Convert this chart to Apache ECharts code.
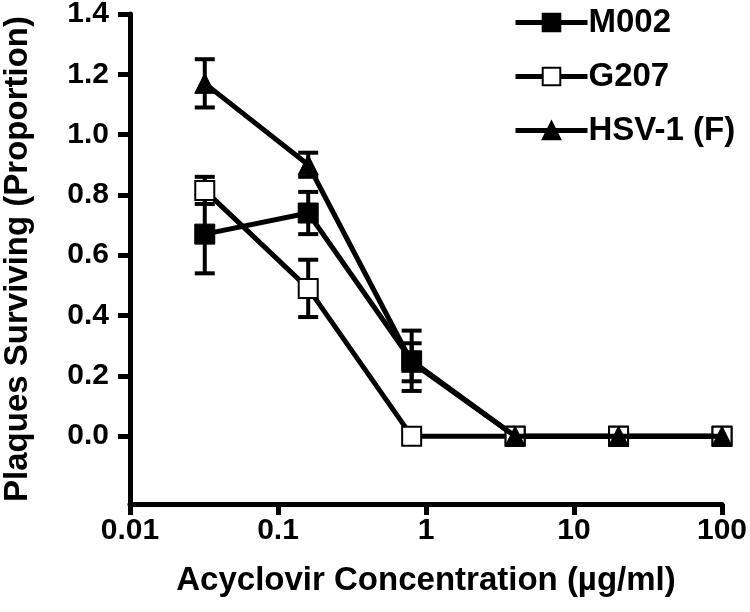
<!DOCTYPE html>
<html>
<head>
<meta charset="utf-8">
<script src="https://cdn.jsdelivr.net/npm/echarts@6/dist/echarts.min.js"></script>
<style>html,body{margin:0;padding:0;background:#fff;}#c{width:750px;height:612px;}</style>
</head>
<body>
<div id="c"></div>
<script>
const concentrations = [0.032, 0.16, 0.8, 4, 20, 100];
const seriesNames = ['M002', 'G207', 'HSV-1 (F)'];
const m002 = [0.67, 0.74, 0.25, 0, 0, 0];
const m002Err = [0.13, 0.07, 0.10, 0, 0, 0];
const g207 = [0.815, 0.49, 0, 0, 0, 0];
const g207Err = [0.045, 0.095, 0, 0, 0, 0];
const hsv1 = [1.17, 0.90, 0.245, 0, 0, 0];
const hsv1Err = [0.08, 0.04, 0.063, 0, 0, 0];
const yTicks = [0, 0.2, 0.4, 0.6, 0.8, 1.0, 1.2, 1.4];
const xTicks = [0.01, 0.1, 1, 10, 100];

const FONT = '"Liberation Sans", Arial, sans-serif';
const chart = echarts.init(document.getElementById('c'), null, {renderer: 'canvas'});

function pts(vals) { return concentrations.map((c, i) => [c, vals[i]]); }
function errData(vals, errs) {
  const out = [];
  concentrations.forEach((c, i) => { if (errs[i] > 0) out.push([c, vals[i], errs[i]]); });
  return out;
}
function errSeries(vals, errs) {
  return {
    type: 'custom',
    data: errData(vals, errs),
    z: 1,
    silent: true,
    renderItem: function (params, api) {
      const x = api.value(0), y = api.value(1), e = api.value(2);
      const top = api.coord([x, y + e]);
      const bot = api.coord([x, y - e]);
      const hw = 10;
      const st = {stroke: '#000', lineWidth: 4};
      return {
        type: 'group',
        children: [
          {type: 'line', shape: {x1: top[0], y1: top[1], x2: bot[0], y2: bot[1]}, style: st},
          {type: 'line', shape: {x1: top[0] - hw, y1: top[1], x2: top[0] + hw, y2: top[1]}, style: st},
          {type: 'line', shape: {x1: bot[0] - hw, y1: bot[1], x2: bot[0] + hw, y2: bot[1]}, style: st}
        ]
      };
    }
  };
}

const option = {
  backgroundColor: '#fff',
  animation: false,
  grid: {left: 130, right: 28, top: 14, bottom: 108, containLabel: false, outerBoundsMode: 'none'},
  legend: {
    orient: 'vertical',
    left: 513,
    top: 6,
    padding: 0,
    itemWidth: 72,
    itemHeight: 22,
    itemGap: 21,
    data: seriesNames,
    textStyle: {fontFamily: FONT, fontWeight: 'bold', fontSize: 33, color: '#000', padding: [0, 0, 0, -4]},
    lineStyle: {width: 5, color: '#000'}
  },
  xAxis: {
    type: 'log',
    logBase: 10,
    min: 0.01,
    max: 100,
    name: 'Acyclovir Concentration (µg/ml)',
    nameLocation: 'middle',
    nameGap: 60,
    nameTextStyle: {fontFamily: FONT, fontWeight: 'bold', fontSize: 33, color: '#000'},
    axisLine: {onZero: false, lineStyle: {color: '#000', width: 5}},
    axisTick: {show: true, length: 11, lineStyle: {color: '#000', width: 5}, customValues: xTicks},
    minorTick: {show: false},
    splitLine: {show: false},
    axisLabel: {fontFamily: FONT, fontWeight: 'bold', fontSize: 30, color: '#000', margin: 12,
      customValues: xTicks,
      formatter: function (v) { return String(+(+v).toPrecision(6)); }}
  },
  yAxis: {
    type: 'value',
    min: -0.225,
    max: 1.4,
    name: 'Plaques Surviving (Proportion)',
    nameLocation: 'middle',
    nameGap: 96,
    nameTextStyle: {fontFamily: FONT, fontWeight: 'bold', fontSize: 33, color: '#000'},
    axisLine: {onZero: false, lineStyle: {color: '#000', width: 5}},
    axisTick: {show: true, length: 12, lineStyle: {color: '#000', width: 5}, customValues: yTicks},
    splitLine: {show: false},
    axisLabel: {fontFamily: FONT, fontWeight: 'bold', fontSize: 30, color: '#000', margin: 21,
      customValues: yTicks,
      formatter: function (v) { return (+v).toFixed(1); }}
  },
  series: [
    errSeries(m002, m002Err),
    errSeries(g207, g207Err),
    errSeries(hsv1, hsv1Err),
    {
      name: 'M002', type: 'line', data: pts(m002), z: 3,
      symbol: 'rect', symbolSize: 20, showAllSymbol: true,
      lineStyle: {color: '#000', width: 5},
      itemStyle: {color: '#000', borderColor: '#000', borderWidth: 1}
    },
    {
      name: 'G207', type: 'line', data: pts(g207), z: 4,
      symbol: 'rect', symbolSize: 19, showAllSymbol: true,
      lineStyle: {color: '#000', width: 5},
      itemStyle: {color: '#fff', borderColor: '#000', borderWidth: 2}
    },
    {
      name: 'HSV-1 (F)', type: 'line', data: pts(hsv1), z: 5,
      symbol: 'triangle', symbolSize: [20, 20], showAllSymbol: true,
      lineStyle: {color: '#000', width: 5},
      itemStyle: {color: '#000', borderColor: '#000', borderWidth: 1}
    }
  ]
};
chart.setOption(option);
</script>
</body>
</html>
